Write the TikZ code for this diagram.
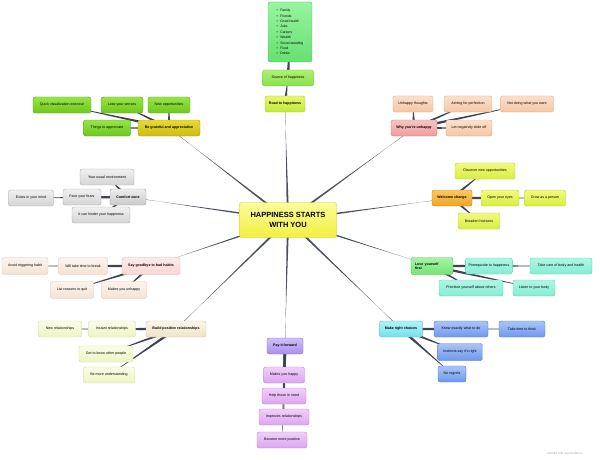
\documentclass[tikz,border=0pt]{standalone}
\usepackage{fontspec}
\setmainfont{Liberation Sans}
\usetikzlibrary{calc,backgrounds}
\definecolor{lineC}{HTML}{4A5262}
\definecolor{connC}{HTML}{3E4454}
% center
\definecolor{cenT}{HTML}{FCFC9A}\definecolor{cenB}{HTML}{F2F040}\definecolor{cenD}{HTML}{C8C830}
% top
\definecolor{lstT}{HTML}{98F4A0}\definecolor{lstB}{HTML}{66E070}\definecolor{lstD}{HTML}{48C458}
\definecolor{srcT}{HTML}{B0F070}\definecolor{srcB}{HTML}{88E050}\definecolor{srcD}{HTML}{6CC838}
\definecolor{rdT}{HTML}{E4F670}\definecolor{rdB}{HTML}{C4E838}\definecolor{rdD}{HTML}{A8CC28}
% grateful
\definecolor{bgT}{HTML}{E8DA30}\definecolor{bgB}{HTML}{CCBC10}\definecolor{bgD}{HTML}{A89A10}
\definecolor{gT}{HTML}{98E448}\definecolor{gB}{HTML}{6CC81C}\definecolor{gD}{HTML}{58A818}
% unhappy
\definecolor{wuT}{HTML}{F9C4C4}\definecolor{wuB}{HTML}{F09C9C}\definecolor{wuD}{HTML}{D07878}
\definecolor{pT}{HTML}{FCE0CC}\definecolor{pB}{HTML}{F4C6A4}\definecolor{pD}{HTML}{E0A880}
% comfort
\definecolor{czT}{HTML}{EEEEEE}\definecolor{czB}{HTML}{CACACA}\definecolor{czD}{HTML}{A0A0A0}
\definecolor{cgT}{HTML}{F0F0F0}\definecolor{cgB}{HTML}{D4D4D4}\definecolor{cgD}{HTML}{ABABAB}
% welcome
\definecolor{wcT}{HTML}{F9C860}\definecolor{wcB}{HTML}{F0A424}\definecolor{wcD}{HTML}{D08810}
\definecolor{ygT}{HTML}{F0FA80}\definecolor{ygB}{HTML}{D8EE40}\definecolor{ygD}{HTML}{B8D020}
% goodbye
\definecolor{sgT}{HTML}{FDEAEA}\definecolor{sgB}{HTML}{F8D6D6}\definecolor{sgD}{HTML}{E0B0B0}
\definecolor{lpT}{HTML}{FDF4EE}\definecolor{lpB}{HTML}{F4E2D4}\definecolor{lpD}{HTML}{E0C8B8}
% love
\definecolor{lyT}{HTML}{A8F4A8}\definecolor{lyB}{HTML}{74E274}\definecolor{lyD}{HTML}{50C050}
\definecolor{aqT}{HTML}{B0F6E4}\definecolor{aqB}{HTML}{84ECD2}\definecolor{aqD}{HTML}{50D0B0}
% build
\definecolor{bpT}{HTML}{FCF6E8}\definecolor{bpB}{HTML}{F0E4C8}\definecolor{bpD}{HTML}{D0C0A0}
\definecolor{crT}{HTML}{FAFDE6}\definecolor{crB}{HTML}{EEF4C4}\definecolor{crD}{HTML}{D0D8A0}
% choices
\definecolor{mcT}{HTML}{B0F2F8}\definecolor{mcB}{HTML}{74E0EC}\definecolor{mcD}{HTML}{40C0D0}
\definecolor{blT}{HTML}{A8C4F8}\definecolor{blB}{HTML}{7098EC}\definecolor{blD}{HTML}{5078D0}
% pay
\definecolor{pfT}{HTML}{CEC0F8}\definecolor{pfB}{HTML}{A890F0}\definecolor{pfD}{HTML}{8870D0}
\definecolor{puT}{HTML}{F0D0FA}\definecolor{puB}{HTML}{DCA4F0}\definecolor{puD}{HTML}{C080E0}

\tikzset{
  box/.style={rounded corners=2.2pt, draw, line width=0.4pt,
    font=\fontsize{3.6}{4.3}\selectfont, inner xsep=3pt, inner ysep=1pt,
    minimum height=16pt, align=center},
  mainbox/.style={box, font=\fontsize{3.6}{4.3}\selectfont\bfseries},
  pal/.style={top color=#1T, bottom color=#1B, draw=#1D},
  conn/.style={fill=connC},
  cline/.style={fill=lineC},
}
\newcommand{\tconn}[3]{\fill[conn] ($(#1.center)!#3!90:(#2.center)$) -- ($(#1.center)!#3!-90:(#2.center)$) -- (#2.center) -- cycle;}
\newcommand{\cconn}[2]{\fill[cline] ($(#1.center)!1.2pt!90:(#2.center)$) -- ($(#1.center)!1.2pt!-90:(#2.center)$) -- ($(#2.center)!0.3pt!-90:(#1.center)$) -- ($(#2.center)!0.3pt!90:(#1.center)$) -- cycle;}

\begin{document}
\begin{tikzpicture}[x=1pt,y=-1pt]
\useasboundingbox (0,0) rectangle (600,460);

% center
\node[box, pal=cen, minimum width=97pt, minimum height=35pt,
  font=\fontsize{7.5}{10}\selectfont\bfseries] (c) at (288,220) {HAPPINESS STARTS\\WITH YOU};

% top
\node[box, pal=lst, minimum width=44pt, minimum height=60pt, align=left,
  font=\fontsize{3.4}{5.4}\selectfont] (lst) at (290,32)
  {\textbullet\hspace{2.5pt}Family\\\textbullet\hspace{2.5pt}Friends\\\textbullet\hspace{2.5pt}Good health\\\textbullet\hspace{2.5pt}Jobs\\\textbullet\hspace{2.5pt}Careers\\\textbullet\hspace{2.5pt}Wealth\\\textbullet\hspace{2.5pt}Social standing\\\textbullet\hspace{2.5pt}Food\\\textbullet\hspace{2.5pt}Drinks};
\node[box, pal=src, minimum width=51pt] (src) at (288,78) {Source of happiness};
\node[mainbox, pal=rd, minimum width=40pt] (rd) at (285,104) {Road to happiness};

% grateful
\node[mainbox, pal=bg, minimum width=62pt] (bg) at (169,128) {Be grateful and appreciative};
\node[box, pal=g, minimum width=47pt] (ta) at (107,128) {Things to appreciate};
\node[box, pal=g, minimum width=58pt] (qv) at (62,105) {Quick visualization exercise};
\node[box, pal=g, minimum width=42pt] (ls) at (122,105) {Lose your senses};
\node[box, pal=g, minimum width=42pt] (no) at (169,105) {New opportunities};

% unhappy
\node[mainbox, pal=wu, minimum width=46pt] (wu) at (414,128) {Why you're unhappy};
\node[box, pal=p, minimum width=40pt] (ut) at (413,104) {Unhappy thoughts};
\node[box, pal=p, minimum width=48pt] (ap) at (468,104) {Aiming for perfection};
\node[box, pal=p, minimum width=53pt] (nd) at (527,104) {Not doing what you want};
\node[box, pal=p, minimum width=46pt] (ln) at (469,128) {Let negativity slide off};

% comfort
\node[mainbox, pal=cz, minimum width=36pt] (cz) at (128,197) {Comfort zone};
\node[box, pal=cg, minimum width=54pt] (ue) at (107,177) {Your usual environment};
\node[box, pal=cg, minimum width=38pt] (ff) at (82,197) {Face your fears};
\node[box, pal=cg, minimum width=45pt] (em) at (31,198) {Exists in your mind};
\node[box, pal=cg, minimum width=58pt] (ih) at (101,215) {It can hinder your happiness};

% welcome
\node[mainbox, pal=wc, minimum width=40pt] (wc) at (452,198) {Welcome change};
\node[box, pal=yg, minimum width=60pt] (dn) at (485,171) {Discover new opportunities};
\node[box, pal=yg, minimum width=38pt] (oe) at (500,198) {Open your eyes};
\node[box, pal=yg, minimum width=41pt] (gp) at (545,198) {Grow as a person};
\node[box, pal=yg, minimum width=42pt] (bh) at (479,221) {Broaden horizons};

% goodbye
\node[mainbox, pal=sg, minimum width=58pt, minimum height=17pt] (sg) at (151,266) {Say goodbye to bad habits};
\node[box, pal=lp, minimum width=49pt, minimum height=17pt] (wt) at (83,266) {Will take time to break};
\node[box, pal=lp, minimum width=46pt, minimum height=17pt] (at) at (25,266) {Avoid triggering habit};
\node[box, pal=lp, minimum width=43pt, minimum height=17pt] (lr) at (72,290) {List reasons to quit};
\node[box, pal=lp, minimum width=45pt, minimum height=17pt] (mu) at (124,290) {Makes you unhappy};

% love
\node[mainbox, pal=ly, minimum width=42pt, minimum height=17pt, align=left, text width=34pt] (ly) at (432,266) {Love yourself\\first};
\node[box, pal=aq, minimum width=46pt] (pr) at (489,266) {Prerequisite to happiness};
\node[box, pal=aq, minimum width=62pt] (tc) at (561,266) {Take care of body and health};
\node[box, pal=aq, minimum width=64pt] (pa) at (471,288) {Prioritize yourself above others};
\node[box, pal=aq, minimum width=42pt] (lb) at (534,288) {Listen to your body};

% build
\node[mainbox, pal=bp, minimum width=60pt] (bp) at (176,329) {Build positive relationships};
\node[box, pal=cr, minimum width=47pt] (ir) at (112,329) {Instant relationships};
\node[box, pal=cr, minimum width=43pt] (nr) at (60,329) {New relationships};
\node[box, pal=cr, minimum width=54pt] (gk) at (106,354) {Get to know other people};
\node[box, pal=cr, minimum width=51pt] (bu) at (109,375) {Be more understanding};

% choices
\node[mainbox, pal=mc, minimum width=43pt] (mc) at (401,329) {Make right choices};
\node[box, pal=bl, minimum width=54pt] (ke) at (461,329) {Know exactly what to do};
\node[box, pal=bl, minimum width=46pt] (tt) at (522,329) {Take time to think};
\node[box, pal=bl, minimum width=45pt, minimum height=17pt] (is) at (460,352) {Instincts say it's right};
\node[box, pal=bl, minimum width=28pt] (nrg) at (452,374) {No regrets};

% pay
\node[mainbox, pal=pf, minimum width=36pt] (pf) at (285,346) {Pay it forward};
\node[box, pal=pu, minimum width=41pt] (mh) at (284,375) {Makes you happy};
\node[box, pal=pu, minimum width=44pt] (hn) at (284,396) {Help those in need};
\node[box, pal=pu, minimum width=50pt] (im) at (284,417) {Improves relationships};
\node[box, pal=pu, minimum width=50pt] (bm) at (282,440) {Become more positive};

\node[font=\fontsize{3}{3.6}\selectfont, text=black!35, inner sep=0pt] (foot) at (565,453) {created with www.bubbl.us};

\begin{scope}[on background layer]
  \foreach \m in {rd,bg,wu,cz,wc,sg,ly,bp,mc,pf} {\cconn{c}{\m}}
  \tconn{rd}{src}{1.5pt}\tconn{src}{lst}{1.5pt}
  \tconn{bg}{ta}{1.5pt}\tconn{bg}{qv}{1.5pt}\tconn{bg}{ls}{1.5pt}\tconn{bg}{no}{1.5pt}
  \tconn{wu}{ut}{1.5pt}\tconn{wu}{ap}{1.5pt}\tconn{wu}{nd}{1.5pt}\tconn{wu}{ln}{1.5pt}
  \tconn{cz}{ue}{1.5pt}\tconn{cz}{ff}{1.5pt}\tconn{cz}{em}{1.5pt}\tconn{cz}{ih}{1.5pt}
  \tconn{wc}{dn}{1.5pt}\tconn{wc}{oe}{1.5pt}\tconn{wc}{gp}{1.5pt}\tconn{wc}{bh}{1.5pt}
  \tconn{sg}{wt}{1.5pt}\tconn{sg}{at}{1.5pt}\tconn{sg}{lr}{1.5pt}\tconn{sg}{mu}{1.5pt}
  \tconn{ly}{pr}{1.5pt}\tconn{ly}{tc}{1.5pt}\tconn{ly}{pa}{1.5pt}\tconn{ly}{lb}{1.5pt}
  \tconn{bp}{ir}{1.5pt}\tconn{bp}{nr}{1.5pt}\tconn{bp}{gk}{1.5pt}\tconn{bp}{bu}{1.5pt}
  \tconn{mc}{ke}{1.5pt}\tconn{mc}{tt}{1.5pt}\tconn{mc}{is}{1.5pt}\tconn{mc}{nrg}{1.5pt}
  \tconn{pf}{mh}{1.5pt}\tconn{pf}{hn}{1.5pt}\tconn{pf}{im}{1.5pt}\tconn{pf}{bm}{1.5pt}
\end{scope}
\end{tikzpicture}
\end{document}
